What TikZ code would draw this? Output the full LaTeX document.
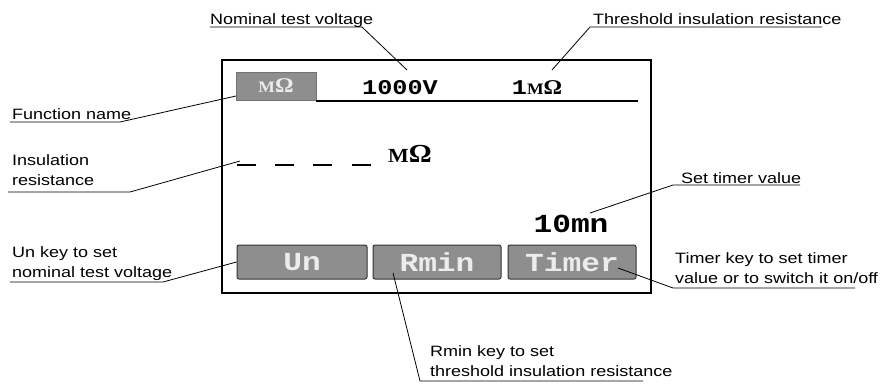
\documentclass[tikz,border=0pt]{standalone}
\usepackage{fontspec}
\setmainfont{Liberation Sans}[FakeStretch=1.2]
\newfontfamily\lcdfont{Liberation Mono}[FakeStretch=1.2]
\newfontfamily\unitfont{Liberation Serif}[FakeStretch=1.1]
\usetikzlibrary{positioning, calc}

\definecolor{keygray}{HTML}{8E8E8E}
\definecolor{keytext}{HTML}{ECECEC}

% M in small capitals followed by a full size Omega
\newcommand{\megohm}[2]{{\unitfont\bfseries\fontsize{#1}{#1}\selectfont M\fontsize{#2}{#2}\selectfont Ω}}

\tikzset{
    lbl/.style={font=\fontsize{15}{20}\selectfont, inner sep=0pt, align=left},
    leader/.style={line width=0.8pt},
    softkey/.style={draw=black!80, fill=keygray, rounded corners=2pt, line width=1pt,
        minimum height=34pt, inner sep=0pt, text=keytext,
        font=\lcdfont\bfseries\fontsize{26}{26}\selectfont},
    lcd/.style={inner sep=0pt, font=\lcdfont\bfseries\fontsize{21}{21}\selectfont},
}

\begin{document}
\begin{tikzpicture}[x=1pt, y=-1pt]
    \useasboundingbox (0, 0) rectangle (880, 383);

    % screen frame and header
    \node[draw, line width=2.5pt, minimum width=429pt, minimum height=233pt, inner sep=0pt] (screen) at (436.5, 176.5) {};
    \node[draw=black!55, fill=keygray, line width=0.8pt, minimum width=80pt, minimum height=28pt, inner sep=0pt, text=keytext] (fnbox) at (276, 86) {\megohm{16}{21}};
    \coordinate (hdrend) at (638, 101);
    \draw[line width=1.8pt] (fnbox.south east |- hdrend) -- (hdrend);

    \node[lcd, anchor=base] (volt) at (400, 94) {1000V};
    \node[lcd, anchor=base] (thres) at (537, 94) {1\megohm{16}{21}};

    % reading
    \foreach \x in {237, 275, 313, 352} {
        \draw[line width=1.4pt] (\x, 165) -- ++(19, 0);
    }
    \node[inner sep=0pt, anchor=base west] (unit) at (388, 162) {\megohm{20}{26}};
    \node[lcd, anchor=base, font=\lcdfont\bfseries\fontsize{26}{26}\selectfont] (timer) at (571, 232) {10mn};

    % keys
    \node[softkey, minimum width=130pt] (unkey) at (302, 262) {Un};
    \node[softkey, minimum width=128pt] (rminkey) at (437, 262) {Rmin};
    \node[softkey, minimum width=128pt] (timerkey) at (572, 262) {Timer};

    % labels with leaders
    \node[lbl, anchor=base west] (nomlbl) at (210, 24) {Nominal test voltage};
    \coordinate (nomknee) at (362, 27);
    \coordinate (nomtip) at (407, 70);
    \draw[leader] (nomlbl.west |- nomknee) -- (nomknee) -- (nomtip);

    \node[lbl, anchor=base west] (thrlbl) at (593, 24) {Threshold insulation resistance};
    \coordinate (thrknee) at (590, 27);
    \coordinate (thrend) at (822, 27);
    \coordinate (thrtip) at (552, 70);
    \draw[leader] (thrend) -- (thrknee) -- (thrtip);

    \node[lbl, anchor=base west] (fnlbl) at (12, 119) {Function name};
    \coordinate (fnknee) at (120, 122);
    \coordinate (fntip) at (236, 96);
    \draw[leader] (10, 122) -- (fnknee) -- (fntip);

    \node[lbl, anchor=base west] (readlbl) at (12, 185) {Insulation\\resistance};
    \coordinate (readknee) at (130, 192);
    \coordinate (readtip) at (240, 161);
    \draw[leader] (8, 192) -- (readknee) -- (readtip);

    \node[lbl, anchor=base west] (unlbl) at (12, 277) {Un key to set\\nominal test voltage};
    \coordinate (unknee) at (163, 282);
    \draw[leader] (10, 282) -- (unknee) -- (unkey.west);

    \node[lbl, anchor=base west] (rminlbl) at (430, 376) {Rmin key to set\\threshold insulation resistance};
    \coordinate (rminknee) at (420, 381);
    \coordinate (rminend) at (643, 381);
    \coordinate (rmintip) at (393, 273);
    \draw[leader] (rminend) -- (rminknee) -- (rmintip);

    \node[lbl, anchor=base west] (setlbl) at (681, 183) {Set timer value};
    \coordinate (setknee) at (673, 185);
    \coordinate (setend) at (800, 185);
    \coordinate (settip) at (590, 213);
    \draw[leader] (setend) -- (setknee) -- (settip);

    \node[lbl, anchor=base west] (tmlbl) at (675, 283) {Timer key to set timer\\value or to switch it on/off};
    \coordinate (tmknee) at (673, 288);
    \coordinate (tmend) at (855, 288);
    \coordinate (tmtip) at (618, 268);
    \draw[leader] (tmend) -- (tmknee) -- (tmtip);
\end{tikzpicture}
\end{document}
